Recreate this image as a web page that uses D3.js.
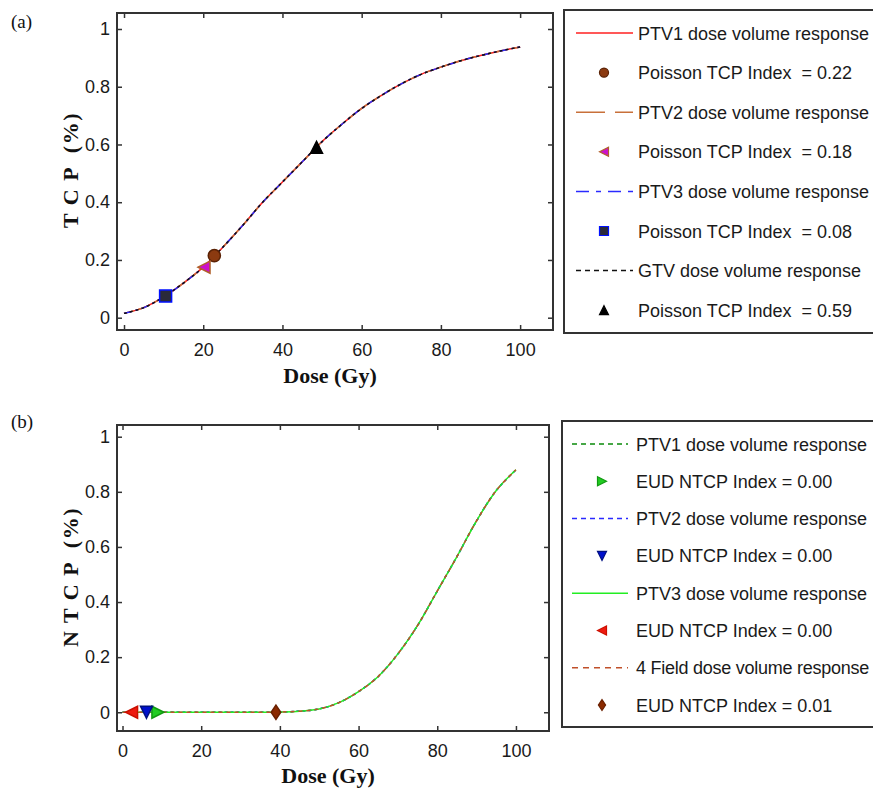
<!DOCTYPE html>
<html><head><meta charset="utf-8">
<script src="https://cdn.jsdelivr.net/npm/d3@7"></script>
<style>body{margin:0;background:#fff}</style>
</head><body>
<svg id="c" width="873" height="791"></svg>
<script>
// ---- data ----
const doses = [0,5,10,15,20,25,30,35,40,45,50,55,60,65,70,75,80,85,90,95,100];
const tcpValues = [0.015,0.035,0.072,0.12,0.175,0.245,0.32,0.40,0.47,0.54,0.61,0.67,0.725,0.77,0.81,0.843,0.868,0.89,0.908,0.924,0.938];
const ntcpValues = [0,0,0,0,0,0,0,0,0.001,0.004,0.012,0.035,0.075,0.13,0.212,0.315,0.44,0.565,0.695,0.805,0.88];
const xTicks = [0,20,40,60,80,100];
const yTicks = [0,0.2,0.4,0.6,0.8,1];
const yTickLabels = ["0","0.2","0.4","0.6","0.8","1"];

const tcpSeries = ["PTV1 dose volume response","PTV2 dose volume response","PTV3 dose volume response","GTV dose volume response"];
const tcpIndexLabels = ["Poisson TCP Index  = 0.22","Poisson TCP Index  = 0.18","Poisson TCP Index  = 0.08","Poisson TCP Index  = 0.59"];
const tcpIndexDose = [22.8,20.2,10.5,48.6];
const tcpIndexValue = [0.215,0.175,0.075,0.59];

const ntcpSeries = ["PTV1 dose volume response","PTV2 dose volume response","PTV3 dose volume response","4 Field dose volume response"];
const ntcpIndexLabels = ["EUD NTCP Index = 0.00","EUD NTCP Index = 0.00","EUD NTCP Index = 0.00","EUD NTCP Index = 0.01"];
const ntcpIndexDose = [9.0,6.1,2.3,39.0];
const ntcpIndexValue = [0,0,0,0];

// ---- styles ----
const tcpLineStyles = [
  {color:"#ff2020", dash:null},
  {color:"#c8703a", dash:"10,5"},
  {color:"#2a2aff", dash:"8,4,2,4"},
  {color:"#111111", dash:"3,3"}
];
const tcpLegendDash = [null,"29,10","13,7,5,7","5,4"];
const tcpMarkers = [
  {type:"circle", fill:"#8b3a10", stroke:"#5a2205"},
  {type:"left", fill:"#cc10cc", stroke:"#b0602a"},
  {type:"square", fill:"#2a2a3a", stroke:"#0010ff"},
  {type:"up", fill:"#000", stroke:"#000"}
];
const ntcpLineStyles = [
  {color:"#0a8a0a", dash:"3,3"},
  {color:"#2a2aff", dash:"3,3"},
  {color:"#22ee22", dash:null},
  {color:"#c0502a", dash:"4,4"}
];
const ntcpLegendDash = ["5,4","5,4",null,"6,5"];
const ntcpMarkers = [
  {type:"right", fill:"#22cc22", stroke:"#119911"},
  {type:"down", fill:"#0010cc", stroke:"#001080"},
  {type:"left", fill:"#ee1a10", stroke:"#cc1000"},
  {type:"diamond", fill:"#8b2a00", stroke:"#6a2000"}
];

const svg = d3.select("#c");
const sansFont = "'Liberation Sans', Arial, sans-serif";
const serifFont = "'Liberation Serif', 'Times New Roman', serif";
const frameColor = "#333";

function markerPath(type, s) {
  const h = s/2;
  switch(type) {
    case "left": return `M${-h},0L${h},${-h}L${h},${h}Z`;
    case "right": return `M${h},0L${-h},${-h}L${-h},${h}Z`;
    case "up": return `M0,${-h}L${h},${h}L${-h},${h}Z`;
    case "down": return `M0,${h}L${h},${-h}L${-h},${-h}Z`;
    case "square": return `M${-h},${-h}H${h}V${h}H${-h}Z`;
    case "diamond": return `M0,${-h*1.2}L${h*0.8},0L0,${h*1.2}L${-h*0.8},0Z`;
    default: return d3.symbol(d3.symbolCircle, s*s*0.8)();
  }
}

function panel(cfg) {
  const x = d3.scaleLinear().domain(cfg.xDomain).range([cfg.left, cfg.right]);
  const y = d3.scaleLinear().domain(cfg.yDomain).range([cfg.bottom, cfg.top]);
  const g = svg.append("g");

  const ax = g.append("g").attr("transform",`translate(0,${cfg.bottom})`)
    .call(d3.axisBottom(x).tickValues(xTicks).tickFormat(d3.format("d")).tickSizeInner(-5).tickSizeOuter(0).tickPadding(13));
  const ay = g.append("g").attr("transform",`translate(${cfg.left},0)`)
    .call(d3.axisLeft(y).tickValues(yTicks).tickFormat((d,i)=>yTickLabels[i]).tickSizeInner(-5).tickSizeOuter(0).tickPadding(7));
  const at = g.append("g").attr("transform",`translate(0,${cfg.top})`)
    .call(d3.axisTop(x).tickValues(xTicks).tickFormat("").tickSizeInner(-5).tickSizeOuter(0));
  const ar = g.append("g").attr("transform",`translate(${cfg.right},0)`)
    .call(d3.axisRight(y).tickValues(yTicks).tickFormat("").tickSizeInner(-5).tickSizeOuter(0));
  [ax,ay,at,ar].forEach(a=>{
    a.select(".domain").remove();
    a.selectAll(".tick line").attr("stroke",frameColor).attr("stroke-width",1.5);
    a.selectAll("text").attr("font-family",sansFont).attr("font-size",18).attr("fill","#1a1a1a");
  });

  g.append("rect").attr("x",cfg.left).attr("y",cfg.top)
    .attr("width",cfg.right-cfg.left).attr("height",cfg.bottom-cfg.top)
    .attr("fill","none").attr("stroke",frameColor).attr("stroke-width",2);

  const line = d3.line().x((d,i)=>x(doses[i])).y(d=>y(d)).curve(d3.curveCatmullRom.alpha(0.5));
  cfg.lineStyles.forEach(st=>{
    g.append("path").datum(cfg.values).attr("d",line)
      .attr("fill","none").attr("stroke",st.color).attr("stroke-width",1.5)
      .attr("stroke-dasharray",st.dash);
  });

  cfg.markers.forEach((m,i)=>{
    g.append("path").attr("d",markerPath(m.type, 12))
      .attr("transform",`translate(${x(cfg.mDose[i])},${y(cfg.mVal[i])})`)
      .attr("fill",m.fill).attr("stroke",m.stroke).attr("stroke-width",1.5);
  });

  g.append("text").attr("x",(cfg.left+cfg.right)/2 - 5).attr("y",cfg.xTitleY)
    .attr("text-anchor","middle").attr("font-family",serifFont).attr("font-weight","bold")
    .attr("font-size",22).attr("fill","#111").text("Dose (Gy)");
  g.append("text").attr("transform",`translate(78,${cfg.yTitleCY}) rotate(-90)`)
    .attr("text-anchor","middle").attr("font-family",serifFont).attr("font-weight","bold")
    .attr("font-size",22).attr("letter-spacing",1.5).attr("fill","#111")
    .style("white-space","pre").text(cfg.yTitle);
  g.append("text").attr("x",11).attr("y",cfg.tagY).attr("font-family",serifFont)
    .attr("font-size",19).attr("fill","#111").text(cfg.tag);

  const L = cfg.legend;
  g.append("rect").attr("x",L.x).attr("y",L.y).attr("width",900-L.x).attr("height",L.h)
    .attr("fill","#fff").attr("stroke",frameColor).attr("stroke-width",2);
  const rows = [];
  cfg.seriesLabels.forEach((s,i)=>{ rows.push({kind:"line",i,label:s}); rows.push({kind:"marker",i,label:cfg.indexLabels[i]}); });
  rows.forEach((r,k)=>{
    const cy = L.row0 + k*L.step;
    if (r.kind==="line") {
      g.append("line").attr("x1",L.lx0).attr("x2",L.lx1).attr("y1",cy).attr("y2",cy)
        .attr("stroke",cfg.lineStyles[r.i].color).attr("stroke-width",1.5)
        .attr("stroke-dasharray",L.dash[r.i]);
    } else {
      const m = cfg.markers[r.i];
      g.append("path").attr("d",markerPath(m.type, 9))
        .attr("transform",`translate(${L.mx},${cy})`)
        .attr("fill",m.fill).attr("stroke",m.stroke).attr("stroke-width",1.2);
    }
    g.append("text").attr("x",L.tx).attr("y",cy+6.5).attr("font-family",sansFont)
      .attr("font-size",18).attr("letter-spacing",r.label.length>26 ? -0.25 : 0)
      .attr("fill","#1a1a1a").style("white-space","pre").text(r.label);
  });
}

panel({
  left:117,right:553,top:13,bottom:330,
  xDomain:[-1.77,108.3], yDomain:[-0.0426,1.0554],
  values:tcpValues, lineStyles:tcpLineStyles, markers:tcpMarkers,
  mDose:tcpIndexDose, mVal:tcpIndexValue,
  xTitleY:383, yTitleCY:170, yTitle:"T C P  (%)", tag:"(a)", tagY:28,
  seriesLabels:tcpSeries, indexLabels:tcpIndexLabels,
  legend:{x:564,y:10,h:323,row0:33,step:39.6,lx0:576,lx1:633,mx:604,tx:638,dash:tcpLegendDash}
});
panel({
  left:117,right:549,top:425,bottom:731,
  xDomain:[-1.4,108.4], yDomain:[-0.068,1.0425],
  values:ntcpValues, lineStyles:ntcpLineStyles, markers:ntcpMarkers,
  mDose:ntcpIndexDose, mVal:ntcpIndexValue,
  xTitleY:783, yTitleCY:577, yTitle:"N T C P  (%)", tag:"(b)", tagY:428,
  seriesLabels:ntcpSeries, indexLabels:ntcpIndexLabels,
  legend:{x:562,y:421,h:306,row0:444,step:37.3,lx0:572,lx1:628,mx:602,tx:636,dash:ntcpLegendDash}
});
</script>
</body></html>
